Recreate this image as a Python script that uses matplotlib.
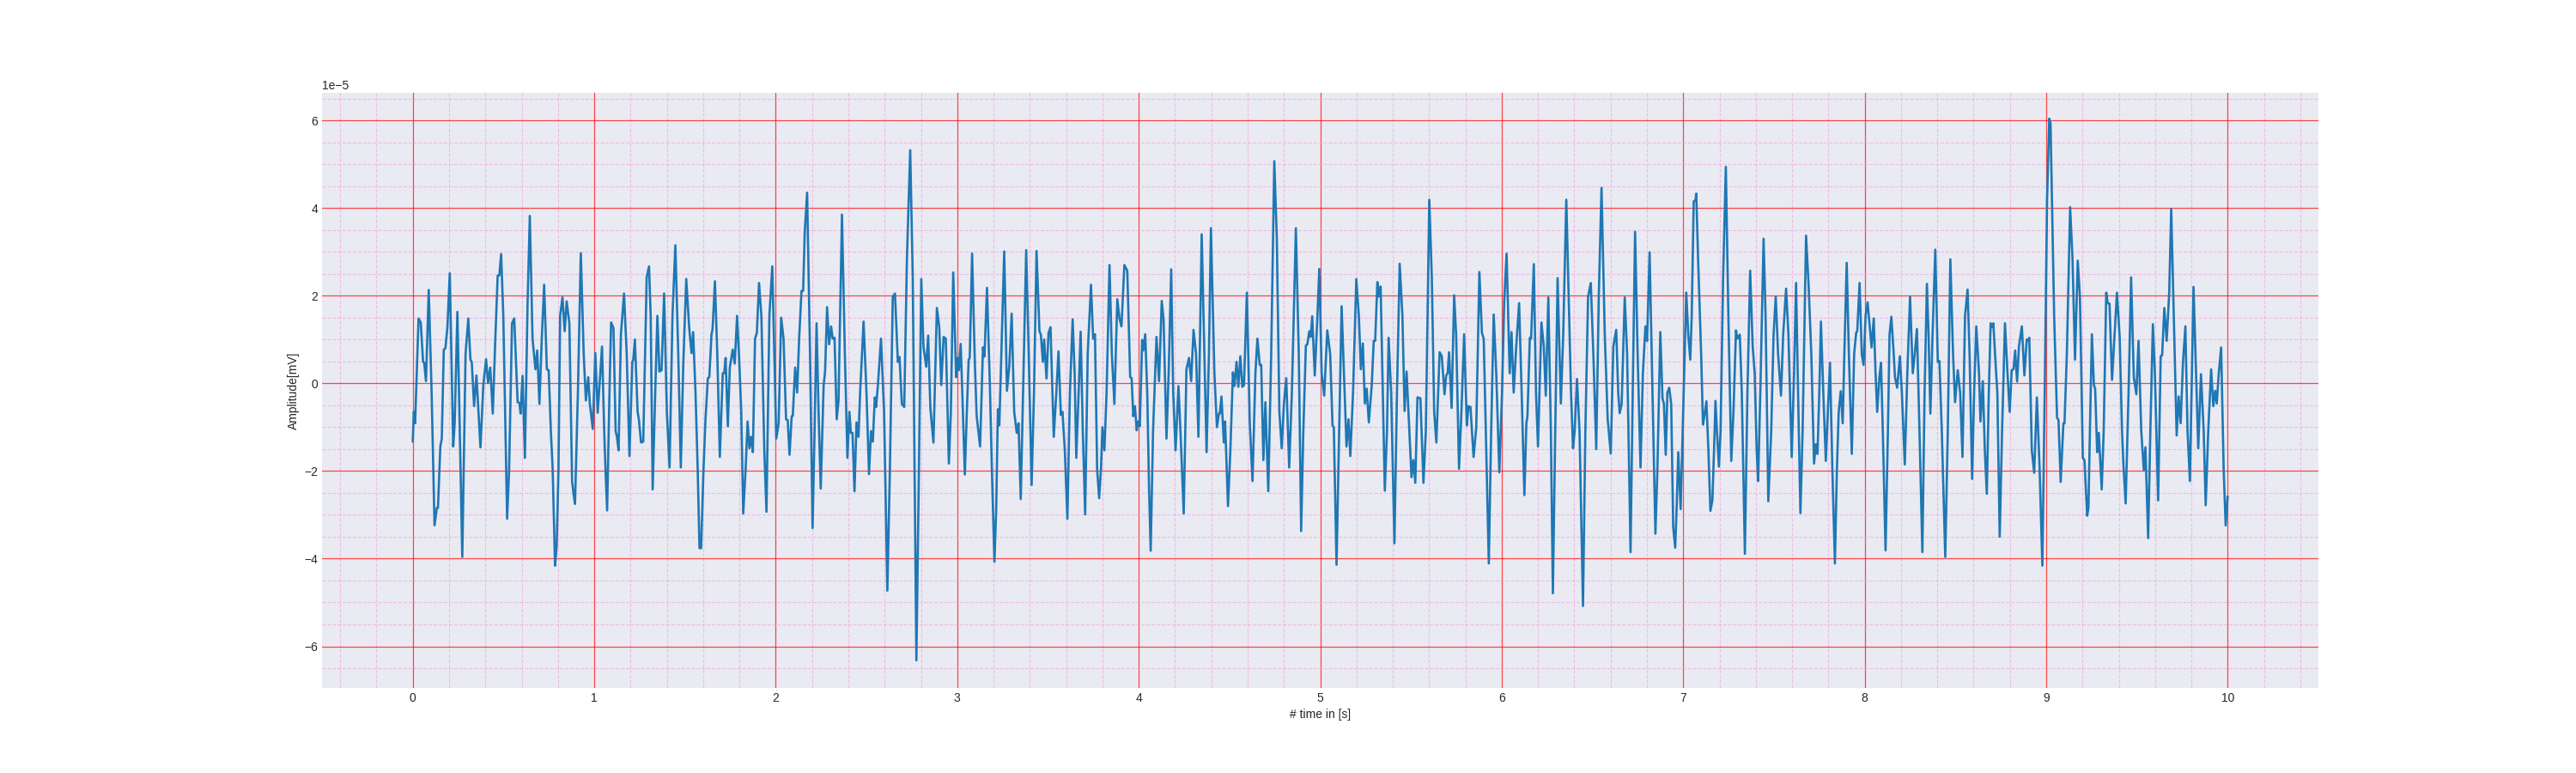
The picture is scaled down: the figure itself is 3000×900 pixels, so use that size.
import numpy as np
import matplotlib
matplotlib.use("Agg")
import matplotlib.pyplot as plt
from matplotlib.ticker import MultipleLocator

# ---------------- data (time in s, amplitude in units of 1e-5 mV) ----------------
AMP_SCALE = 1e-5

t_00 = [0.0, 0.006, 0.013, 0.032, 0.044, 0.057, 0.063, 0.073, 0.088, 0.104,
        0.120, 0.133, 0.139, 0.152, 0.160, 0.171, 0.180, 0.191, 0.204, 0.223,
        0.231, 0.246, 0.273, 0.291, 0.306, 0.318, 0.325, 0.338, 0.351, 0.373,
        0.389, 0.404, 0.415, 0.427, 0.441, 0.455, 0.468, 0.477, 0.487, 0.499,
        0.520, 0.531, 0.547, 0.559, 0.578, 0.588, 0.594, 0.605, 0.618, 0.633,
        0.645, 0.660, 0.676, 0.686, 0.698, 0.711, 0.724, 0.739, 0.749, 0.761,
        0.771, 0.784, 0.793, 0.803, 0.812, 0.825, 0.837, 0.848, 0.863, 0.878,
        0.885, 0.894, 0.910, 0.926, 0.942, 0.954, 0.967, 0.976, 0.992]
a_00 = [-1.33, -0.65, -0.91, 1.48, 1.39, 0.49, 0.47, 0.05, 2.13, -0.21,
        -3.24, -2.84, -2.84, -1.44, -1.26, 0.77, 0.80, 1.28, 2.51, -1.44,
        -0.91, 1.63, -3.96, 0.67, 1.48, 0.54, 0.49, -0.52, 0.18, -1.46,
        -0.04, 0.55, 0.01, 0.36, -0.69, 1.02, 2.46, 2.46, 2.95, 1.54,
        -3.09, -1.96, 1.37, 1.48, -0.43, -0.45, -0.69, 0.17, -1.70, 1.89,
        3.82, 1.02, 0.32, 0.75, -0.47, 1.02, 2.25, 0.32, 0.30, -1.09,
        -1.96, -4.16, -3.72, -1.96, 1.54, 1.96, 1.19, 1.87, 1.37, -2.23,
        -2.49, -2.75, -0.21, 2.97, 0.67, -0.39, 0.14, -0.47, -1.04]

t_01 = [1.006, 1.019, 1.043, 1.055, 1.062, 1.071, 1.084, 1.093, 1.106, 1.118,
        1.125, 1.134, 1.147, 1.164, 1.179, 1.194, 1.210, 1.215, 1.224, 1.239,
        1.246, 1.258, 1.270, 1.289, 1.302, 1.311, 1.322, 1.336, 1.348, 1.359,
        1.371, 1.385, 1.400, 1.415, 1.431, 1.447, 1.463, 1.477, 1.491, 1.507,
        1.523, 1.536, 1.545, 1.558, 1.570, 1.580, 1.589, 1.602, 1.613, 1.626,
        1.634, 1.646, 1.652, 1.665, 1.678, 1.692, 1.708, 1.716, 1.724, 1.736,
        1.747, 1.763, 1.774, 1.787, 1.798, 1.810, 1.821, 1.834, 1.845, 1.855,
        1.864, 1.874, 1.886, 1.896, 1.908, 1.921, 1.937, 1.949, 1.965, 1.981,
        1.992, 2.003, 2.016, 2.030, 2.043, 2.057, 2.066, 2.076]
a_01 = [0.69, -0.67, 0.84, -1.09, -1.96, -2.90, -0.21, 1.39, 1.26, -1.09,
        -1.22, -1.53, 1.11, 2.05, 0.67, -1.66, 0.49, 0.54, 1.00, -0.65,
        -0.82, -1.35, -1.33, 2.42, 2.67, 1.54, -2.42, -0.21, 1.54, 0.27,
        0.30, 2.05, -0.65, -1.92, 1.54, 3.15, 0.67, -1.92, 0.49, 2.38,
        1.28, 0.69, 1.17, -0.21, -1.96, -3.76, -3.76, -1.96, -0.82, 0.12,
        0.14, 1.11, 1.24, 2.33, 0.67, -1.68, 0.23, 0.23, 0.58, -0.98,
        0.36, 0.77, 0.45, 1.54, 0.62, -0.65, -2.97, -1.96, -0.87, -1.48,
        -1.22, -1.57, 1.02, 1.15, 2.29, 1.54, -1.53, -2.93, 1.54, 2.67,
        0.67, -1.26, -0.91, 1.50, 1.02, -0.82, -0.84, -1.63]

t_02 = [2.088, 2.094, 2.107, 2.118, 2.129, 2.142, 2.151, 2.160, 2.173, 2.189,
        2.203, 2.214, 2.225, 2.236, 2.248, 2.264, 2.272, 2.283, 2.294, 2.305,
        2.314, 2.324, 2.336, 2.346, 2.365, 2.381, 2.395, 2.406, 2.414, 2.423,
        2.434, 2.445, 2.456, 2.465, 2.484, 2.500, 2.514, 2.525, 2.535, 2.546,
        2.553, 2.563, 2.580, 2.597, 2.615, 2.629, 2.645, 2.657, 2.673, 2.682,
        2.695, 2.708, 2.723, 2.741, 2.755, 2.775, 2.789, 2.802, 2.814, 2.829,
        2.840, 2.852, 2.869, 2.888, 2.901, 2.912, 2.925, 2.937, 2.954, 2.965,
        2.978, 2.994, 3.003, 3.009, 3.019, 3.028, 3.042, 3.053, 3.063, 3.069,
        3.082, 3.097, 3.107]
a_02 = [-0.75, -0.74, 0.36, -0.21, 1.02, 2.11, 2.11, 3.47, 4.35, 0.67,
        -3.30, -1.09, 1.37, -0.65, -2.40, -0.04, 0.27, 1.74, 0.89, 1.30,
        1.02, 1.04, -0.82, -0.39, 3.85, 0.67, -1.70, -0.65, -1.13, -1.13,
        -2.46, -0.89, -1.22, -0.21, 1.41, -0.21, -2.07, -1.09, -1.33, -0.32,
        -0.54, -0.04, 1.02, -0.65, -4.73, -1.96, 1.98, 2.05, 0.49, 0.60,
        -0.47, -0.54, 2.86, 5.32, 2.42, -6.32, -1.96, 2.38, 0.84, 0.38,
        1.09, -0.56, -1.35, 1.72, 1.28, -0.04, 1.06, 1.02, -1.83, -0.65,
        2.53, 0.14, 0.58, 0.30, 0.90, -0.21, -2.08, -0.65, 0.54, 0.58,
        2.96, 0.49, -0.74]

t_03 = [3.126, 3.142, 3.150, 3.164, 3.180, 3.191, 3.205, 3.215, 3.224, 3.232,
        3.243, 3.259, 3.274, 3.287, 3.300, 3.314, 3.328, 3.338, 3.350, 3.363,
        3.380, 3.394, 3.410, 3.423, 3.437, 3.453, 3.461, 3.472, 3.479, 3.492,
        3.503, 3.514, 3.532, 3.546, 3.558, 3.571, 3.580, 3.593, 3.607, 3.621,
        3.636, 3.647, 3.656, 3.669, 3.680, 3.692, 3.705, 3.719, 3.737, 3.749,
        3.759, 3.771, 3.782, 3.792, 3.800, 3.811, 3.823, 3.839, 3.852, 3.866,
        3.882, 3.894, 3.905, 3.921, 3.937, 3.953, 3.961, 3.970, 3.979, 3.989,
        3.997, 4.006, 4.019, 4.025, 4.036, 4.047, 4.057, 4.066, 4.079, 4.098]
a_03 = [-1.44, 0.82, 0.61, 2.18, -0.04, -1.96, -4.07, -2.84, -0.59, -0.96,
        0.67, 3.01, -0.17, 0.40, 1.59, -0.65, -1.13, -0.91, -2.64, -0.21,
        3.04, 0.67, -2.32, -0.21, 3.02, 1.19, 1.11, 0.49, 1.00, 0.11,
        1.15, 1.28, -1.22, -0.21, 0.73, -0.72, -0.65, -1.53, -3.09, -0.21,
        1.46, 0.23, -1.70, -0.21, 1.18, -1.09, -2.99, 0.67, 2.25, 1.02,
        1.12, -1.96, -2.62, -1.96, -1.00, -1.53, -0.21, 2.70, 0.67, -0.47,
        1.92, 1.48, 1.30, 2.70, 2.57, 0.14, 0.12, -0.75, -0.52, -1.07,
        -0.87, -0.98, 0.99, 0.75, 1.12, -0.21, -2.40, -3.82, -1.09, 1.06]

t_04 = [4.112, 4.127, 4.137, 4.153, 4.165, 4.179, 4.190, 4.203, 4.219, 4.230,
        4.248, 4.263, 4.277, 4.289, 4.302, 4.316, 4.329, 4.347, 4.362, 4.374,
        4.387, 4.398, 4.417, 4.431, 4.442, 4.447, 4.456, 4.469, 4.476, 4.492,
        4.505, 4.519, 4.528, 4.539, 4.549, 4.560, 4.571, 4.580, 4.596, 4.612,
        4.627, 4.643, 4.654, 4.667, 4.675, 4.687, 4.698, 4.714, 4.730, 4.747,
        4.761, 4.775, 4.788, 4.800, 4.813, 4.829, 4.844, 4.866, 4.882, 4.895,
        4.907, 4.921, 4.929, 4.940, 4.948, 4.956, 4.970, 4.983, 4.995, 5.008,
        5.022, 5.039, 5.055, 5.068, 5.075, 5.090]
a_04 = [0.05, 1.88, 1.46, -1.26, 0.23, 2.60, -0.21, -1.53, -0.06, -1.09,
        -2.97, 0.32, 0.58, 0.05, 1.22, 0.67, -1.22, 3.40, 0.67, -1.57,
        0.67, 3.54, 0.23, -1.00, -0.69, -0.69, -0.30, -1.35, -0.87, -2.80,
        -1.53, 0.25, -0.06, 0.49, -0.08, 0.62, -0.08, -0.04, 2.07, -0.91,
        -2.23, 0.23, 1.02, 0.42, 0.42, -1.75, -0.43, -2.46, 0.67, 5.07,
        3.30, -0.65, -1.48, -0.47, 0.12, -1.92, -0.21, 3.54, 0.67, -3.37,
        -1.09, 0.86, 0.89, 1.19, 1.06, 1.53, 0.18, 1.37, 2.61, 0.23,
        -0.28, 1.21, 0.67, -0.96, -1.00, -4.14]

t_05 = [5.118, 5.131, 5.145, 5.156, 5.166, 5.181, 5.199, 5.213, 5.224, 5.235,
        5.246, 5.256, 5.268, 5.284, 5.295, 5.303, 5.315, 5.323, 5.333, 5.345,
        5.356, 5.368, 5.377, 5.391, 5.409, 5.423, 5.438, 5.453, 5.465, 5.476,
        5.491, 5.503, 5.513, 5.524, 5.536, 5.552, 5.569, 5.582, 5.601, 5.615,
        5.628, 5.640, 5.658, 5.670, 5.685, 5.694, 5.702, 5.710, 5.724, 5.738,
        5.749, 5.765, 5.778, 5.793, 5.808, 5.817, 5.828, 5.845, 5.860, 5.877,
        5.891, 5.901, 5.915, 5.929, 5.942, 5.956, 5.970, 5.987, 6.002, 6.014,
        6.027, 6.044, 6.054, 6.066, 6.080]
a_05 = [1.76, 0.23, -1.44, -0.82, -1.66, -0.21, 2.38, 1.54, 0.32, 0.91,
        -0.46, -0.12, -0.89, -0.04, 0.97, 0.97, 2.31, 1.98, 2.21, -0.21,
        -2.45, -1.09, 1.04, -0.21, -3.65, -0.21, 2.73, 1.54, -0.63, 0.27,
        -1.09, -2.14, -1.75, -2.27, -0.32, -0.34, -2.27, -1.09, 4.19, 2.42,
        -0.65, -1.35, 0.71, 0.62, -0.25, 0.18, 0.23, 0.71, -0.56, 2.01,
        1.11, -1.95, -0.65, 1.12, -0.96, -0.52, -0.54, -1.68, -1.00, 2.54,
        1.15, 1.02, -1.53, -4.11, -1.09, 1.57, 0.23, -2.03, -0.21, 1.89,
        2.96, 0.23, 1.17, -0.21, 0.84]

t_06 = [6.096, 6.110, 6.125, 6.136, 6.142, 6.155, 6.162, 6.177, 6.189, 6.200,
        6.211, 6.219, 6.232, 6.243, 6.257, 6.271, 6.282, 6.295, 6.308, 6.319,
        6.326, 6.339, 6.356, 6.369, 6.382, 6.393, 6.402, 6.415, 6.429, 6.448,
        6.461, 6.476, 6.491, 6.505, 6.521, 6.535, 6.550, 6.568, 6.584, 6.601,
        6.615, 6.631, 6.642, 6.650, 6.661, 6.678, 6.691, 6.710, 6.722, 6.735,
        6.749, 6.765, 6.778, 6.792, 6.801, 6.815, 6.831, 6.847, 6.858, 6.874,
        6.886, 6.894, 6.904, 6.913, 6.923, 6.934, 6.945, 6.956, 6.964, 6.973,
        6.986, 7.000, 7.017, 7.028, 7.039, 7.047, 7.058, 7.068]
a_06 = [1.83, -0.21, -2.55, -0.91, -0.74, 1.04, 1.02, 2.72, -0.21, -1.44,
        0.23, 1.39, 0.84, -0.28, 1.96, -1.09, -4.79, -1.09, 2.40, 0.67,
        -0.46, 1.11, 4.19, 1.98, -0.21, -1.48, -1.09, 0.10, -1.09, -5.08,
        -1.09, 1.98, 2.29, 0.67, -1.50, 1.98, 4.46, 1.11, -0.82, -1.60,
        0.84, 1.22, -0.21, -0.68, -0.47, 1.96, 0.67, -3.85, -0.21, 3.46,
        0.67, -1.92, 0.23, 1.30, 0.97, 2.99, -0.21, -3.43, -1.96, 1.17,
        -0.34, -0.47, -1.63, -0.21, -0.10, -0.47, -3.28, -3.75, -2.84, -1.57,
        -2.87, -0.65, 2.07, 1.11, 0.54, 1.54, 4.15, 4.18]

t_07 = [7.072, 7.082, 7.099, 7.109, 7.117, 7.128, 7.139, 7.150, 7.161, 7.170,
        7.178, 7.186, 7.197, 7.206, 7.220, 7.235, 7.249, 7.265, 7.277, 7.291,
        7.299, 7.312, 7.323, 7.340, 7.354, 7.369, 7.383, 7.394, 7.405, 7.413,
        7.425, 7.443, 7.454, 7.469, 7.485, 7.498, 7.510, 7.523, 7.539, 7.551,
        7.567, 7.580, 7.598, 7.611, 7.622, 7.633, 7.646, 7.658, 7.677, 7.691,
        7.706, 7.721, 7.731, 7.740, 7.750, 7.759, 7.772, 7.786, 7.797, 7.809,
        7.822, 7.836, 7.847, 7.857, 7.868, 7.879, 7.888, 7.901, 7.913, 7.929,
        7.942, 7.953, 7.959, 7.972, 7.984, 7.994, 8.005, 8.016, 8.028, 8.038,
        8.050, 8.060, 8.069]
a_07 = [4.33, 2.86, 0.67, -0.94, -0.74, -0.41, -1.53, -2.91, -2.67, -1.53,
        -0.40, -1.09, -1.90, -1.09, 2.42, 4.94, 1.54, -1.77, -0.65, 1.21,
        1.02, 1.11, -0.21, -3.89, -0.21, 2.57, 0.84, 0.23, -1.53, -2.23,
        -0.21, 3.30, 1.54, -2.69, -1.09, 1.11, 1.98, 0.67, -0.28, 1.11,
        2.16, 1.11, -1.68, 0.23, 2.29, -0.21, -2.96, -1.09, 3.37, 2.25,
        0.67, -1.83, -1.39, -1.61, -0.21, 1.41, -0.21, -1.77, -0.65, 0.47,
        -1.96, -4.11, -1.96, -0.65, -0.18, -0.91, 0.67, 2.75, 0.67, -1.61,
        0.67, 1.15, 1.19, 2.29, 0.67, 0.42, 1.54, 1.85, 1.28, 0.82,
        1.48, 0.23, -0.65]

t_08 = [8.081, 8.090, 8.100, 8.115, 8.128, 8.137, 8.147, 8.160, 8.167, 8.179,
        8.194, 8.205, 8.221, 8.235, 8.250, 8.265, 8.276, 8.288, 8.302, 8.318,
        8.330, 8.343, 8.352, 8.362, 8.374, 8.389, 8.403, 8.412, 8.425, 8.444,
        8.458, 8.472, 8.487, 8.498, 8.513, 8.526, 8.539, 8.553, 8.567, 8.578,
        8.592, 8.603, 8.615, 8.630, 8.638, 8.651, 8.662, 8.673, 8.684, 8.694,
        8.701, 8.709, 8.722, 8.731, 8.744, 8.757, 8.773, 8.787, 8.799, 8.810,
        8.820, 8.829, 8.840, 8.850, 8.866, 8.880, 8.893, 8.900, 8.907, 8.921,
        8.934, 8.949, 8.964, 8.979, 8.992, 9.005, 9.017]
a_08 = [0.14, 0.47, -1.09, -3.81, -1.09, 1.11, 1.52, 0.67, 0.14, -0.10,
        0.62, -0.21, -1.85, 0.23, 1.98, 0.23, 0.67, 1.24, -1.09, -3.85,
        -0.21, 2.27, 1.11, -0.69, 1.11, 3.05, 0.49, 0.51, -1.09, -3.96,
        -1.09, 2.83, 0.67, -0.43, 0.30, -0.21, -1.68, 1.54, 2.14, 0.67,
        -2.18, -0.21, 1.30, 0.23, -0.87, 0.05, -1.53, -2.52, -0.21, 1.37,
        1.28, 1.37, 0.40, -0.21, -3.50, -1.09, 1.37, 0.23, -0.65, 0.30,
        0.32, 0.75, 0.04, 0.84, 1.30, 0.18, 1.00, 0.97, 1.04, -1.53,
        -2.04, -0.32, -1.96, -4.16, -0.21, 4.18, 6.04]

t_09 = [9.024, 9.032, 9.044, 9.060, 9.068, 9.080, 9.095, 9.101, 9.114, 9.132,
        9.145, 9.159, 9.174, 9.186, 9.202, 9.211, 9.226, 9.233, 9.241, 9.252,
        9.263, 9.270, 9.281, 9.290, 9.306, 9.317, 9.331, 9.339, 9.349, 9.363,
        9.377, 9.390, 9.405, 9.418, 9.426, 9.438, 9.454, 9.468, 9.483, 9.497,
        9.509, 9.524, 9.538, 9.547, 9.562, 9.574, 9.588, 9.599, 9.617, 9.631,
        9.639, 9.651, 9.664, 9.678, 9.689, 9.703, 9.719, 9.730, 9.741, 9.754,
        9.767, 9.779, 9.792, 9.801, 9.812, 9.823, 9.838, 9.853, 9.868, 9.879,
        9.893, 9.909, 9.921, 9.931, 9.940, 9.951, 9.964, 9.978, 9.989, 10.0]
a_09 = [5.93, 4.18, 1.54, -0.78, -0.84, -2.25, -0.91, -0.91, 0.67, 4.02,
        2.86, 0.54, 2.80, 1.98, -1.70, -1.75, -3.02, -2.84, -1.09, 1.12,
        -0.04, -0.12, -1.57, -1.13, -2.42, -1.09, 2.07, 1.83, 1.82, 0.08,
        1.11, 2.07, 1.06, -1.09, -1.88, -2.74, -0.21, 2.42, 0.14, -0.25,
        0.97, -1.09, -1.98, -1.46, -3.53, -1.09, 1.35, 0.23, -2.67, 0.62,
        0.64, 1.72, 0.97, 2.07, 3.98, 1.54, -1.19, -0.30, -0.91, 0.49,
        1.30, -1.09, -2.23, -0.21, 2.20, 0.67, -1.48, 0.21, -1.09, -2.78,
        -1.09, 0.32, -0.52, -0.17, -0.46, 0.23, 0.82, -1.96, -3.24, -2.58]

x_ticks = list(range(0, 11))
x_label = "# time in [s]"
y_label = "Amplitude[mV]"

# ---------------- assemble ----------------
t_segments = [t_00, t_01, t_02, t_03, t_04, t_05, t_06, t_07, t_08, t_09]
a_segments = [a_00, a_01, a_02, a_03, a_04, a_05, a_06, a_07, a_08, a_09]
for i, (ts, as_) in enumerate(zip(t_segments, a_segments)):
    assert len(ts) == len(as_), (i, len(ts), len(as_))
time = np.concatenate([np.asarray(s, float) for s in t_segments])
amp = np.concatenate([np.asarray(s, float) for s in a_segments]) * AMP_SCALE

# ---------------- style ----------------
plt.style.use("seaborn-v0_8-darkgrid")
plt.rcParams["font.family"] = ["Liberation Sans", "DejaVu Sans"]
plt.rcParams["font.size"] = 10
plt.rcParams["axes.labelsize"] = 10
plt.rcParams["xtick.labelsize"] = 10
plt.rcParams["ytick.labelsize"] = 10

fig, ax = plt.subplots(figsize=(30, 9), dpi=100)
ax.plot(time, amp, color="#1f77b4", linewidth=1.9, zorder=3)

ax.set_xticks(x_ticks)
ax.xaxis.set_minor_locator(MultipleLocator(0.2))
ax.yaxis.set_major_locator(MultipleLocator(2e-5))
ax.yaxis.set_minor_locator(MultipleLocator(0.5e-5))
ax.set_xlim(-0.5, 10.5)
ax.set_ylim(-6.95e-5, 6.63e-5)

ax.grid(which="major", color="red", alpha=0.7, linewidth=0.9, linestyle="-")
ax.grid(which="minor", color="#ee9fd8", alpha=0.6, linewidth=0.8, linestyle="--")
ax.tick_params(which="both", length=0)

ax.set_xlabel(x_label)
ax.set_ylabel(y_label)

fig.savefig("out.png", dpi=100)
